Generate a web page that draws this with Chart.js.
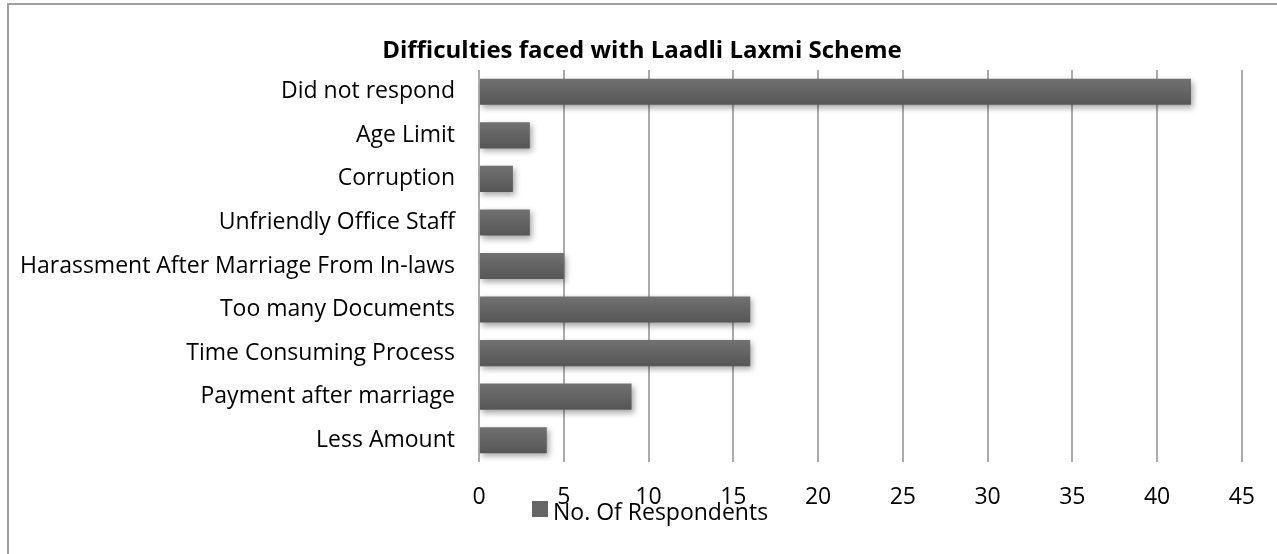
<!DOCTYPE html>
<html>
<head>
<meta charset="utf-8">
<script src="https://cdn.jsdelivr.net/npm/chart.js@4.4.0/dist/chart.umd.min.js"></script>
<style>
  html, body { margin: 0; padding: 0; background: #fff; width: 1277px; height: 554px; overflow: hidden; }
  #frame { position: absolute; left: 7px; top: 3px; width: 1300px; height: 600px; border-left: 2px solid #a0a0a0; border-top: 2px solid #a0a0a0; }
  #wrap { position: absolute; left: 0; top: 0; width: 1277px; height: 554px; }
</style>
</head>
<body>
<div id="frame"></div>
<div id="wrap"><canvas id="c" width="1277" height="554"></canvas></div>
<script>
const categories = [
  "Did not respond",
  "Age Limit",
  "Corruption",
  "Unfriendly Office Staff",
  "Harassment After Marriage From In-laws",
  "Too many Documents",
  "Time Consuming Process",
  "Payment after marriage",
  "Less Amount"
];
const respondents = [42, 3, 2, 3, 5, 16, 16, 9, 4];
const seriesName = "No. Of Respondents";
const chartTitle = "Difficulties faced with Laadli Laxmi Scheme";
const xTicks = [0, 5, 10, 15, 20, 25, 30, 35, 40, 45];

const FONT = "'Open Sans', 'Noto Sans', sans-serif";

const barStyle = {
  id: 'barStyle',
  beforeDatasetsDraw(chart) {
    const ctx = chart.ctx;
    const meta = chart.getDatasetMeta(0);
    meta.data.forEach(el => {
      const top = el.y - el.height / 2, bot = el.y + el.height / 2;
      const g = ctx.createLinearGradient(0, top, 0, bot);
      g.addColorStop(0, '#717171');
      g.addColorStop(1, '#565656');
      el.options = Object.assign({}, el.options, { backgroundColor: g });
    });
    ctx.save();
    ctx.shadowColor = 'rgba(0,0,0,0.35)';
    ctx.shadowBlur = 6;
    ctx.shadowOffsetX = 2;
    ctx.shadowOffsetY = 3;
  },
  afterDatasetsDraw(chart) {
    chart.ctx.restore();
  }
};

const titleAndLegend = {
  id: 'titleAndLegend',
  afterDraw(chart) {
    const ctx = chart.ctx;
    ctx.save();
    // title
    ctx.fillStyle = '#000';
    ctx.font = "bold 24px " + FONT;
    ctx.textAlign = 'center';
    ctx.textBaseline = 'middle';
    ctx.fillText(chartTitle, 642, 51);
    // legend
    ctx.fillStyle = '#666666';
    ctx.fillRect(532, 501, 16, 16);
    ctx.fillStyle = '#000';
    ctx.font = "23px " + FONT;
    ctx.textBaseline = 'alphabetic';
    ctx.textAlign = 'left';
    ctx.fillText(chart.data.datasets[0].label, 553, 520);
    ctx.restore();
  }
};

new Chart(document.getElementById('c'), {
  type: 'bar',
  data: {
    labels: categories,
    datasets: [{
      label: seriesName,
      data: respondents,
      backgroundColor: '#666666',
      borderWidth: 0,
      categoryPercentage: 1.0,
      barPercentage: 0.6
    }]
  },
  options: {
    indexAxis: 'y',
    responsive: false,
    animation: false,
    events: [],
    layout: { padding: { left: 0, right: 28, top: 70, bottom: 0 } },
    plugins: {
      legend: { display: false },
      tooltip: { enabled: false },
      title: { display: false }
    },
    scales: {
      x: {
        min: 0, max: 45,
        afterBuildTicks(scale) { scale.ticks = xTicks.map(v => ({ value: v })); },
        afterFit(scale) { scale.height = 92; },
        grid: { color: '#ababab', lineWidth: 2, drawTicks: false },
        border: { display: false },
        ticks: { color: '#000', font: { family: FONT, size: 23 }, padding: 22, maxRotation: 0 }
      },
      y: {
        afterFit(scale) { scale.width = 479; },
        grid: { display: false, drawTicks: false },
        border: { display: false },
        ticks: { color: '#000', font: { family: FONT, size: 23 }, padding: 24 }
      }
    }
  },
  plugins: [barStyle, titleAndLegend]
});
</script>
</body>
</html>
